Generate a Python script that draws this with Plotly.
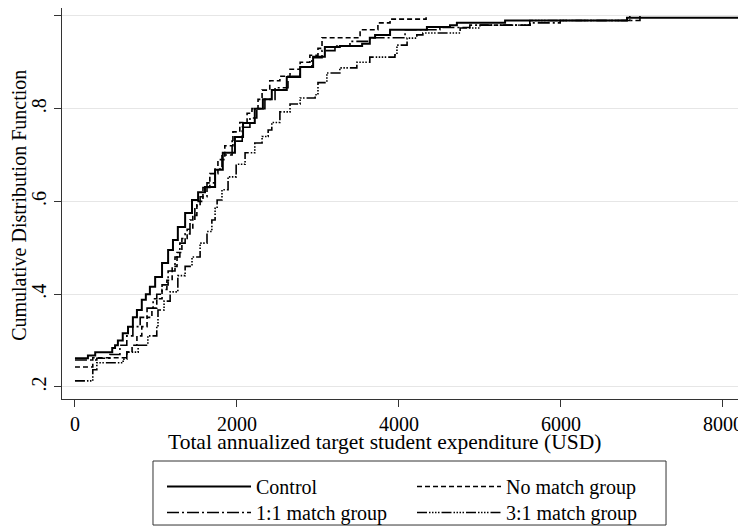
import plotly.graph_objects as go

control_x = [0, 160, 250, 460, 495, 530, 590, 655, 715, 765, 825, 875, 925, 990, 1075, 1150, 1210, 1270, 1360, 1445,
             1520, 1605, 1730, 1825, 1975, 2075, 2220, 2320, 2430, 2615, 2780, 2940, 3085, 3270, 3545, 3640, 3705, 3890,
             4345, 4630, 4715, 5310, 6815, 8200]
control_cdf = [.262, .268, .275, .284, .29, .30, .316, .33, .35, .366, .388, .40, .416, .437, .467, .495, .517, .545, .575, .603,
               .62, .631, .668, .705, .739, .769, .80, .82, .84, .868, .89, .912, .933, .935, .94, .953, .959, .97,
               .976, .98, .985, .99, .996, 1.0]

nomatch_x = [0, 220, 640, 705, 765, 825, 890, 950, 1010, 1075, 1135, 1200, 1260, 1320, 1385, 1455, 1505, 1580, 1665, 1765,
             1850, 1950, 2035, 2125, 2185, 2260, 2310, 2405, 2530, 2655, 2780, 2900, 3000, 3050, 3520, 3740, 3890, 4335]
nomatch_cdf = [.243, .263, .275, .29, .31, .33, .35, .37, .39, .41, .43, .46, .49, .52, .54, .57, .60, .63, .66, .69,
               .72, .75, .77, .79, .80, .82, .84, .86, .87, .885, .90, .915, .93, .953, .97, .985, .993, 1.0]

match11_x = [0, 270, 430, 555, 640, 715, 805, 890, 965, 1010, 1075, 1150, 1235, 1295, 1360, 1420, 1480, 1545, 1630, 1730,
             1815, 1940, 2065, 2160, 2245, 2345, 2470, 2630, 2780, 2925, 3050, 3210, 3395, 3640, 4075, 4505, 4875, 5620,
             5990, 6975]
match11_cdf = [.258, .262, .27, .29, .31, .33, .35, .37, .39, .40, .42, .45, .48, .51, .53, .56, .59, .61, .64, .67,
               .70, .73, .76, .78, .80, .82, .845, .87, .89, .91, .925, .935, .945, .953, .97, .975, .98, .985,
               .99, 1.0]

match31_x = [0, 220, 270, 595, 640, 780, 900, 1010, 1025, 1100, 1175, 1270, 1360, 1445, 1545, 1630, 1690, 1730, 1755, 1815,
             1890, 1990, 2100, 2220, 2310, 2385, 2430, 2530, 2655, 2780, 2965, 3000, 3110, 3270, 3480, 3640, 3950, 3975,
             4100, 4220, 4295, 4755, 5000, 5615, 6850]
match31_cdf = [.213, .237, .252, .26, .275, .29, .31, .33, .366, .385, .405, .44, .46, .48, .51, .535, .56, .585, .603, .625,
               .653, .68, .705, .726, .74, .754, .77, .793, .81, .823, .83, .856, .877, .888, .90, .911, .916, .937,
               .952, .959, .963, .974, .98, .99, 1.0]

series_names = ["Control", "No match group", "1:1 match group", "3:1 match group"]
x_ticks = [0, 2000, 4000, 6000, 8000]
y_ticks = [0.2, 0.4, 0.6, 0.8, 1.0]
y_tick_text = [".2", ".4", ".6", ".8", "1"]
x_title = "Total annualized target student expenditure (USD)"
y_title = "Cumulative Distribution Function"

FONT = "Liberation Serif, Times New Roman, serif"

fig = go.Figure()
styles = [
    (control_x, control_cdf, "solid", 2.0, "legend"),
    (nomatch_x, nomatch_cdf, "5px,3px", 1.6, "legend"),
    (match11_x, match11_cdf, "12px,3px,2px,3px", 1.6, "legend2"),
    (match31_x, match31_cdf, "10px,2px,1.5px,1.5px,1.5px,1.5px,1.5px,1.5px,1.5px,2px", 1.6, "legend2"),
]
for name, (xs, ys, dash, w, lg) in zip(series_names, styles):
    fig.add_trace(go.Scatter(x=xs, y=ys, mode="lines", name=name, line_shape="hv", legend=lg,
                             line=dict(color="black", width=w, dash=dash)))

legend_common = dict(orientation="h", xanchor="left", yanchor="top", x=0.1475,
                     borderwidth=0, bgcolor="rgba(0,0,0,0)",
                     itemwidth=84, entrywidth=151, font=dict(family=FONT, size=20),
                     traceorder="normal")

fig.update_layout(
    width=738, height=523,
    margin=dict(l=54, r=6, t=0, b=132, autoexpand=False),
    paper_bgcolor="white", plot_bgcolor="white",
    font=dict(family=FONT, size=20, color="black"),
    showlegend=True,
    legend=dict(y=-0.1739, **legend_common),
    legend2=dict(y=-0.2404, **legend_common),
    shapes=[dict(type="rect", xref="paper", yref="paper", x0=0.1342, x1=0.8909, y0=-0.1586, y1=-0.3223,
                 line=dict(color="#333333", width=1), fillcolor="rgba(0,0,0,0)", layer="below")],
    annotations=[
        dict(text=x_title, xref="paper", yref="paper", x=0.475, y=0, xanchor="center", yanchor="middle",
             yshift=-43, showarrow=False, font=dict(family=FONT, size=21.5)),
        dict(text=y_title, xref="paper", yref="paper", x=0, y=0.494, xanchor="center", yanchor="middle",
             xshift=-43, textangle=-90, showarrow=False, font=dict(family=FONT, size=20)),
    ],
)
fig.update_xaxes(range=[-160, 8210], tickvals=x_ticks, ticks="outside", ticklen=7, tickcolor="#333333",
                 showline=True, linecolor="#333333", linewidth=1, showgrid=False, zeroline=False,
                 automargin=False, tickfont=dict(family=FONT, size=20))
fig.update_yaxes(range=[0.174, 1.017], tickvals=y_ticks, ticktext=y_tick_text, tickangle=-90,
                 ticks="outside", ticklen=7, tickcolor="#333333",
                 showline=True, linecolor="#333333", linewidth=1, showgrid=True, gridcolor="#e6e6e6", gridwidth=1,
                 zeroline=False, automargin=False, tickfont=dict(family=FONT, size=20))

fig.write_html("out.html")
